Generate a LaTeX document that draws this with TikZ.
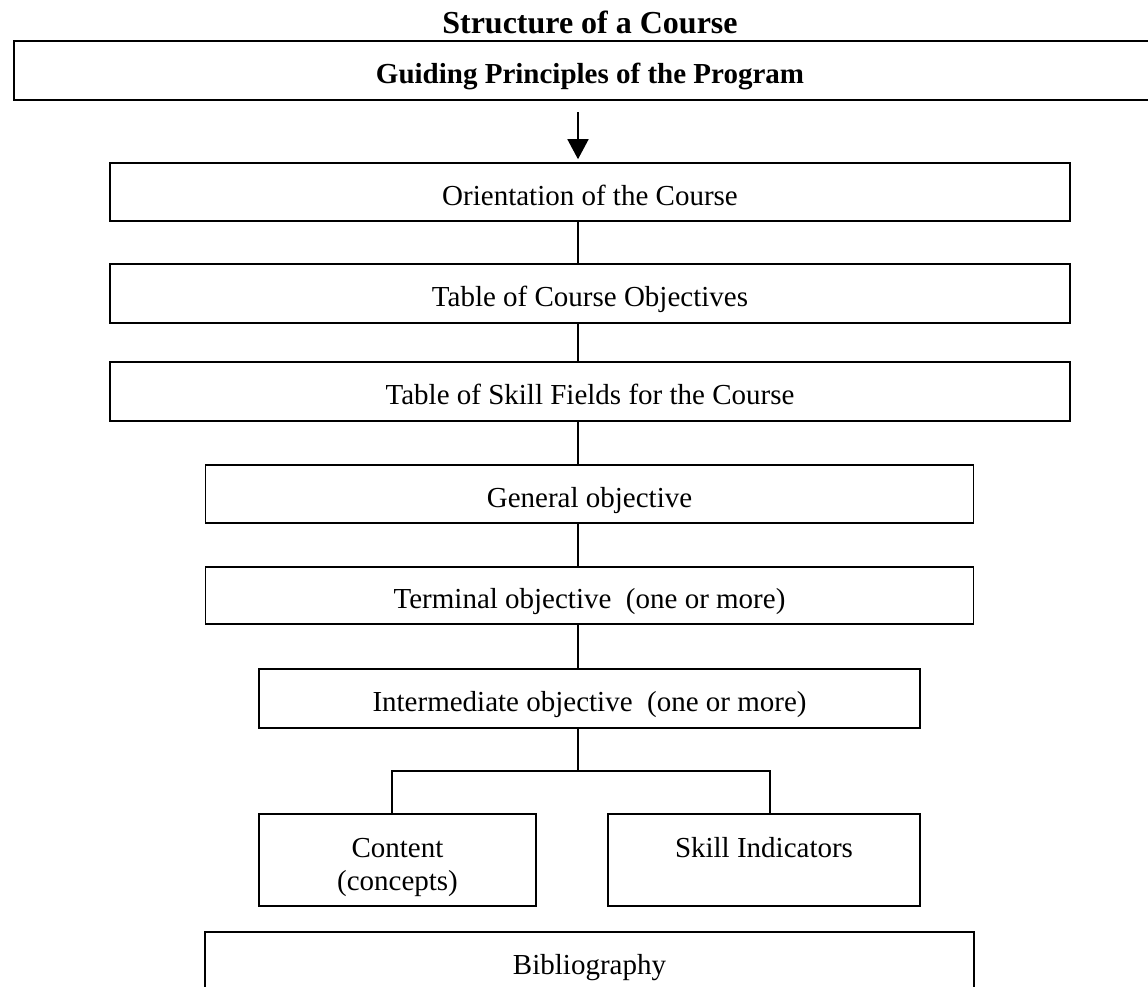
\documentclass[tikz,border=0pt]{standalone}
\usepackage{fontspec}
\setmainfont{Liberation Serif}
\usepackage{tikz}
\usetikzlibrary{arrows.meta,positioning}

\tikzset{
  box/.style={draw, line width=0.8pt, rectangle, inner sep=0pt, text height=16pt, text depth=3pt},
  twobox/.style={draw, line width=0.8pt, rectangle, inner sep=0pt, align=center, text height=33pt, text depth=3pt},
  link/.style={line width=0.8pt},
}

\begin{document}
\begin{tikzpicture}[x=0.5pt, y=-0.5pt, font=\fontsize{14.5}{16.5}\selectfont]
\useasboundingbox (0,0) rectangle (1148,987);

\node[anchor=base, font=\fontsize{16}{18}\selectfont\bfseries] (title) at (590,33) {Structure of a Course};
\node[box, font=\fontsize{14.5}{16.5}\selectfont\bfseries, minimum width=576pt, minimum height=29.5pt] (guide) at (590,70.5) {Guiding Principles of the Program};

\node[box, minimum width=480pt, minimum height=29pt] (orient) at (590,192) {Orientation of the Course};
\node[box, minimum width=480pt, minimum height=29.5pt] (tabobj) at (590,293.5) {Table of Course Objectives};
\node[box, minimum width=480pt, minimum height=29.5pt] (skillf) at (590,391.5) {Table of Skill Fields for the Course};
\node[box, minimum width=384pt, minimum height=29pt] (general) at (589.5,494) {General objective};
\node[box, minimum width=384pt, minimum height=28.5pt] (terminal) at (589.5,595.5) {Terminal objective~ (one or more)};
\node[box, minimum width=330.5pt, minimum height=29.5pt] (inter) at (589.5,698.5) {Intermediate objective~ (one or more)};
\node[twobox, minimum width=138.5pt, minimum height=46pt] (content) at (397.5,860) {Content\\(concepts)};
\node[twobox, minimum width=156pt, minimum height=46pt] (skillind) at (764,860) {Skill Indicators\\\mbox{}};
\node[box, minimum width=384.5pt, minimum height=29pt] (biblio) at (589.5,961) {Bibliography};

\coordinate (spine) at (578,0);
\coordinate (arrowstart) at (578,112);
\coordinate (fork) at (578,771);

% arrow from the guiding principles
\draw[link, -{Triangle[width=10.5pt,length=10pt]}] (arrowstart) -- ([yshift=1.5pt]orient.north -| spine);

% chain of boxes
\draw[link] (orient.south -| spine) -- (tabobj.north -| spine);
\draw[link] (tabobj.south -| spine) -- (skillf.north -| spine);
\draw[link] (skillf.south -| spine) -- (general.north -| spine);
\draw[link] (general.south -| spine) -- (terminal.north -| spine);
\draw[link] (terminal.south -| spine) -- (inter.north -| spine);
\draw[link] (inter.south -| spine) -- (fork);
\draw[link] ([xshift=-2.75pt]content.north) |- (fork) -| ([xshift=3pt]skillind.north);
\end{tikzpicture}
\end{document}
